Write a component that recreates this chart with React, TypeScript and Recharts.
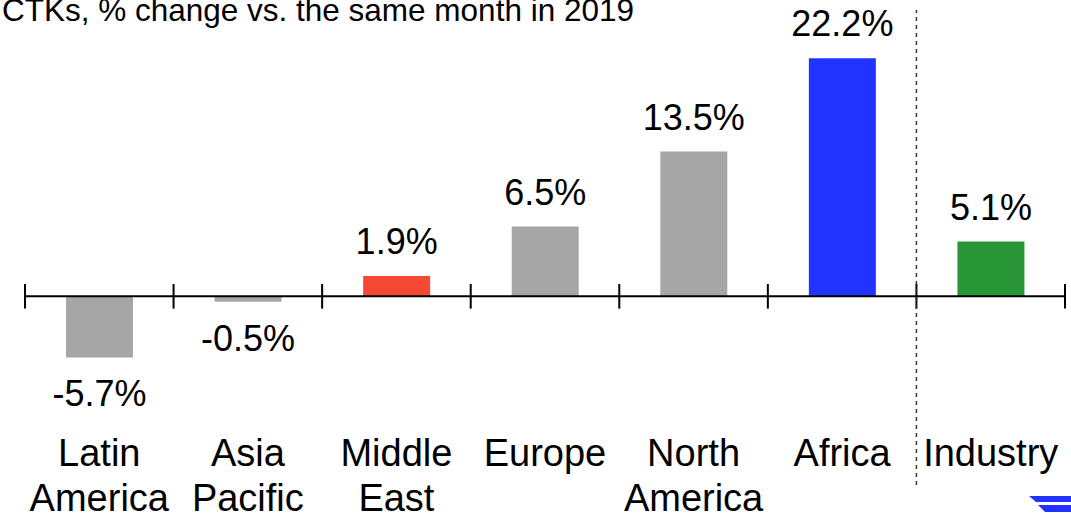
import React from "react";
import { BarChart, Bar, XAxis, YAxis, ReferenceLine, Cell, LabelList } from "recharts";

const categories = ["Latin\nAmerica", "Asia\nPacific", "Middle\nEast", "Europe", "North\nAmerica", "Africa", "Industry"];
const values = [-5.7, -0.5, 1.9, 6.5, 13.5, 22.2, 5.1];
const colors = ["#A6A6A6", "#A6A6A6", "#F44A35", "#A6A6A6", "#A6A6A6", "#2233FF", "#289637"];
const boundaries = [0, 1, 2, 3, 4, 5, 6, 7];
const title = "CTKs, % change vs. the same month in 2019";

const data = categories.map((name, i) => ({ pos: i + 0.5, name, value: values[i], color: colors[i] }));
const tickPositions = data.map((d) => d.pos);

const FONT = "'Liberation Sans', Arial, sans-serif";

const CategoryTick = (props: any) => {
  const { x, y, payload } = props;
  const idx = Math.round(payload.value - 0.5);
  const lines = (categories[idx] || "").split("\n");
  return (
    <g>
      {lines.map((l, i) => (
        <text key={i} x={x} y={y - 19 + i * 45} textAnchor="middle" fontSize={38} fill="#000" fontFamily={FONT}>
          {l}
        </text>
      ))}
    </g>
  );
};

const ValueLabel = (props: any) => {
  const { x, y, width, height, value } = props;
  const top = Math.min(y, y + height);
  const bottom = Math.max(y, y + height);
  const cx = x + width / 2;
  const ty = value >= 0 ? top - 22 : bottom + 49;
  return (
    <text x={cx} y={ty} textAnchor="middle" fontSize={36} fill="#000" fontFamily={FONT}>
      {value.toFixed(1) + "%"}
    </text>
  );
};

export default function App() {
  return (
    <div style={{ position: "absolute", left: 0, top: 0, width: 1071, height: 515, overflow: "hidden", background: "#fff" }}>
      <BarChart width={1071} height={515} data={data} margin={{ top: 10, right: 6, bottom: 0, left: 25 }}>
        <XAxis
          dataKey="pos"
          type="number"
          domain={[0, 7]}
          ticks={tickPositions}
          allowDataOverflow
          axisLine={false}
          tickLine={false}
          tickSize={0}
          tickMargin={0}
          height={30}
          tick={<CategoryTick />}
          interval={0}
        />
        <YAxis hide domain={[-17.6, 26.7]} allowDataOverflow />
        <Bar dataKey="value" barSize={67} isAnimationActive={false}>
          {data.map((d, i) => (
            <Cell key={i} fill={d.color} />
          ))}
          <LabelList dataKey="value" content={<ValueLabel />} />
        </Bar>
        <ReferenceLine y={0} stroke="#000" strokeWidth={2} />
        {boundaries.map((b) => (
          <ReferenceLine
            key={b}
            segment={[{ x: b, y: -1.15 }, { x: b, y: 1.15 }]}
            stroke="#000"
            strokeWidth={2}
          />
        ))}
        <ReferenceLine x={6} stroke="#333" strokeWidth={1.5} strokeDasharray="4 4" />
      </BarChart>
      <svg width={1071} height={515} style={{ position: "absolute", left: 0, top: 0, pointerEvents: "none" }}>
        <text x={634} y={21} textAnchor="end" fontSize={31.5} fill="#000" fontFamily={FONT}>
          {title}
        </text>
        <polygon points="1029,496 1071,496 1071,502 1036,502" fill="#2233FF" />
        <polygon points="1038,505 1071,505 1071,512 1045,512" fill="#2233FF" />
      </svg>
    </div>
  );
}
